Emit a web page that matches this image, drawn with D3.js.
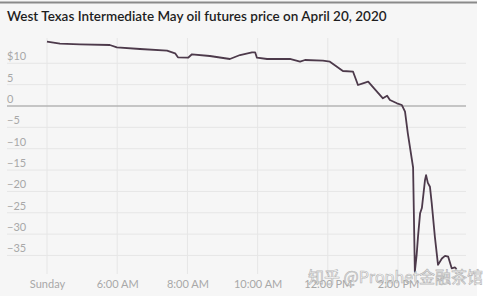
<!DOCTYPE html>
<html>
<head>
<meta charset="utf-8">
<script src="https://cdn.jsdelivr.net/npm/d3@7"></script>
<style>
  body { margin: 0; background: #ffffff; }
  svg { display: block; }
</style>
</head>
<body>
<div id="chart"></div>
<script>
// Hours of the trading day (Sunday label sits at the 4 o'clock slot)
const hours = [4.0, 4.37, 4.94, 5.79, 5.99, 6.65, 7.42, 7.65, 7.73, 8.02, 8.13, 8.64, 9.21,
  9.50, 9.84, 9.93, 9.98, 10.27, 10.92, 11.21, 11.35, 11.86, 12.06, 12.26, 12.43, 12.72,
  12.86, 13.00, 13.15, 13.40, 13.57, 13.69, 13.77, 13.97, 14.11, 14.20,
  14.28, 14.43, 14.48, 14.53, 14.57, 14.63, 14.68, 14.77, 14.80, 14.85, 14.91, 14.96,
  15.05, 15.14, 15.25, 15.34, 15.43, 15.53, 15.62, 15.67];
const prices = [15.06, 14.59, 14.45, 14.29, 13.75, 13.35, 12.95, 12.34, 11.41, 11.31, 12.11, 11.71, 11.01,
  11.94, 12.58, 12.58, 11.31, 11.01, 11.01, 10.37, 10.77, 10.61, 10.37, 9.20, 8.20, 8.03,
  4.92, 5.32, 5.69, 3.35, 1.80, 2.41, 1.41, 0.63, 0.23, -1.33,
  -6.4, -14.4, -38.8, -35.0, -30.6, -25.1, -23.9, -17.3, -16.2, -18.0, -18.9, -22.7,
  -30.6, -37.2, -35.7, -35.1, -35.3, -38.0, -37.8, -38.2];

const tickHours = [4, 6, 8, 10, 12, 14];
const tickLabels = ["Sunday", "6:00 AM", "8:00 AM", "10:00 AM", "12:00 PM", "2:00 PM"];
const yTicks = [10, 5, 0, -5, -10, -15, -20, -25, -30, -35];

const data = hours.map((h, i) => ({ h: h, v: prices[i] }));

let width = 500, height = 300;

let svg = d3.select("#chart")
    .append("svg")
    .attr("width", width)
    .attr("height", height);

// Panel background and top rule
svg.append("rect")
    .attr("x", 0).attr("y", 0)
    .attr("width", 477).attr("height", 296)
    .attr("fill", "#f6f6f6");

svg.append("line")
    .attr("x1", 0).attr("x2", 477)
    .attr("y1", 2.5).attr("y2", 2.5)
    .attr("stroke", "#8a8a8a")
    .attr("stroke-width", 2);

// Title
svg.append("text")
    .attr("x", 7)
    .attr("y", 21)
    .style("font-family", "Lato, 'Open Sans', sans-serif")
    .style("font-size", "13.5px")
    .style("font-weight", "600")
    .attr("fill", "#1e1e1e")
    .text("West Texas Intermediate May oil futures price on April 20, 2020");

// Scales
let x = d3.scaleLinear()
    .domain([4, 14])
    .range([47, 398]);

let y = d3.scaleLinear()
    .domain([0, 10])
    .range([106, 63.3]);

// Horizontal gridlines with labels above them
yTicks.forEach(t => {
    if (t !== 0) {
        svg.append("line")
            .attr("x1", 7).attr("x2", 466)
            .attr("y1", y(t)).attr("y2", y(t))
            .attr("stroke", "#e6e6e6")
            .attr("stroke-width", 1);
    }
    svg.append("text")
        .attr("x", 7)
        .attr("y", y(t) - 3)
        .style("font-family", "Lato, sans-serif")
        .style("font-size", "11px")
        .attr("fill", "#a8a8a8")
        .text(t === 10 ? "$10" : (t < 0 ? "\u2212" + Math.abs(t) : t));
});

// Vertical gridlines
tickHours.forEach(t => {
    svg.append("line")
        .attr("x1", x(t)).attr("x2", x(t))
        .attr("y1", 38).attr("y2", 274)
        .attr("stroke", "#e6e6e6")
        .attr("stroke-width", 1);
});

// x axis labels
let xAxis = svg.append("g")
    .attr("transform", "translate(0,274)")
    .call(d3.axisBottom(x)
        .tickValues(tickHours)
        .tickFormat((d, i) => tickLabels[i])
        .tickSize(0)
        .tickPadding(6));

xAxis.select(".domain").remove();
xAxis.selectAll("text")
    .style("font-family", "Lato, sans-serif")
    .style("font-size", "11px")
    .attr("fill", "#a8a8a8");

// Zero line
svg.append("line")
    .attr("x1", 7).attr("x2", 466)
    .attr("y1", y(0)).attr("y2", y(0))
    .attr("stroke", "#b4b4b4")
    .attr("stroke-width", 1.5);

// Price line
let line = d3.line()
    .x(d => x(d.h))
    .y(d => y(d.v));

svg.append("path")
    .datum(data)
    .attr("fill", "none")
    .attr("stroke", "#4d3a4b")
    .attr("stroke-width", 1.8)
    .attr("stroke-linejoin", "round")
    .attr("d", line);

// Watermark
svg.append("text")
    .attr("x", 308)
    .attr("y", 283)
    .style("font-family", "'Noto Sans CJK SC', sans-serif")
    .style("font-size", "16px")
    .attr("fill", "#ffffff")
    .attr("fill-opacity", 0.6)
    .attr("stroke", "#9a9a9a")
    .attr("stroke-opacity", 0.7)
    .attr("stroke-width", 0.7)
    .text("知乎 @Prophet金融茶馆");
</script>
</body>
</html>
